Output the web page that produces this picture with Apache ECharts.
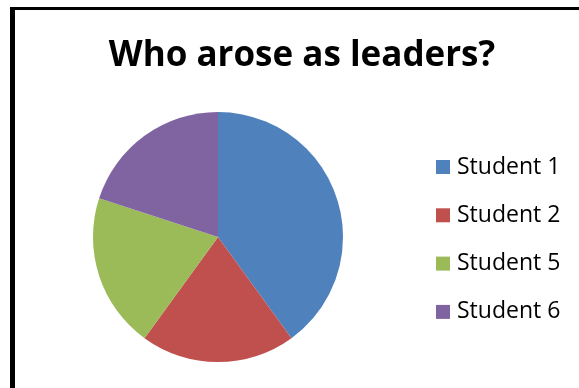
<!DOCTYPE html>
<html>
<head>
<meta charset="utf-8">
<script src="https://cdn.jsdelivr.net/npm/echarts@6/dist/echarts.min.js"></script>
<style>
  html, body { margin: 0; padding: 0; background: #fff; }
  #chart { width: 579px; height: 388px; }
</style>
</head>
<body>
<div id="chart"></div>
<script>
// Who emerged as group leaders
const titleText = 'Who arose as leaders?';
const students = ['Student 1', 'Student 2', 'Student 5', 'Student 6'];
const leaderCounts = [2, 1, 1, 1];
const sliceColors = ['#4F81BD', '#C0504D', '#9BBB59', '#8064A2'];

const chart = echarts.init(document.getElementById('chart'), null, { renderer: 'canvas' });

chart.setOption({
  backgroundColor: '#ffffff',
  animation: false,
  color: sliceColors,
  title: {
    text: titleText,
    left: 302,
    textAlign: 'center',
    top: 39,
    padding: 0,
    textStyle: {
      fontFamily: 'Open Sans',
      fontWeight: 'bold',
      fontSize: 35,
      color: '#000'
    }
  },
  legend: {
    orient: 'vertical',
    left: 436,
    top: 155,
    padding: 0,
    icon: 'rect',
    itemWidth: 14,
    itemHeight: 14,
    itemGap: 24.3,
    textStyle: {
      fontFamily: 'Open Sans',
      fontSize: 23,
      lineHeight: 24,
      color: '#000',
      padding: [0, 0, 0, 2]
    },
    data: students
  },
  graphic: [
    // chart frame (left and top edges visible)
    { type: 'rect', shape: { x: 10, y: 7, width: 5, height: 400 }, style: { fill: '#000' }, silent: true },
    { type: 'rect', shape: { x: 10, y: 7, width: 600, height: 3 }, style: { fill: '#000' }, silent: true }
  ],
  series: [{
    type: 'pie',
    center: [218, 237],
    radius: 125,
    startAngle: 90,
    clockwise: true,
    label: { show: false },
    labelLine: { show: false },
    itemStyle: { borderWidth: 0 },
    data: students.map((name, i) => ({ name, value: leaderCounts[i] }))
  }]
});
</script>
</body>
</html>
